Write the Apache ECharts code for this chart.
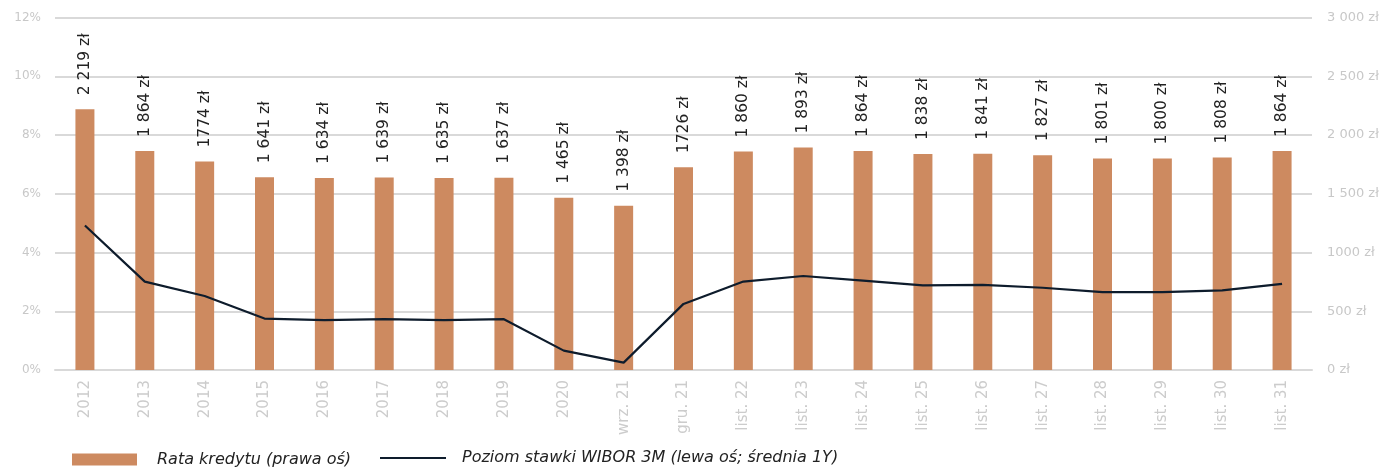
<!DOCTYPE html>
<html>
<head>
<meta charset="utf-8">
<script src="https://cdn.jsdelivr.net/npm/echarts@6/dist/echarts.min.js"></script>
<style>
html,body{margin:0;padding:0;background:#fff;}
#chart{width:1394px;height:468px;}
</style>
</head>
<body>
<div id="chart"></div>
<script>
var categories = ["2012","2013","2014","2015","2016","2017","2018","2019","2020","wrz. 21","gru. 21","list. 22","list. 23","list. 24","list. 25","list. 26","list. 27","list. 28","list. 29","list. 30","list. 31"];
var rataValues = [2219,1864,1774,1641,1634,1639,1635,1637,1465,1398,1726,1860,1893,1864,1838,1841,1827,1801,1800,1808,1864];
var rataLabels = ["2 219 zł","1 864 zł","1774 zł","1 641 zł","1 634 zł","1 639 zł","1 635 zł","1 637 zł","1 465 zł","1 398 zł","1726 zł","1 860 zł","1 893 zł","1 864 zł","1 838 zł","1 841 zł","1 827 zł","1 801 zł","1 800 zł","1 808 zł","1 864 zł"];
var wiborValues = [4.92,3.01,2.52,1.75,1.70,1.73,1.70,1.73,0.66,0.25,2.25,3.01,3.20,3.04,2.88,2.90,2.80,2.65,2.65,2.71,2.93];
var leftTicks = {0:"0%",2:"2%",4:"4%",6:"6%",8:"8%",10:"10%",12:"12%"};
var rightTicks = {0:"0 zł",500:"500 zł",1000:"1000 zł",1500:"1 500 zł",2000:"2 000 zł",2500:"2 500 zł",3000:"3 000 zł"};
var seriesNames = ["Rata kredytu (prawa oś)","Poziom stawki WIBOR 3M (lewa oś; średnia 1Y)"];

var axisFont = {color:"#c8c8c8", fontSize:13, fontFamily:"DejaVu Sans", fontWeight:"normal"};
var legendFont = {fontSize:16, fontStyle:"italic", color:"#222", fontFamily:"DejaVu Sans", fontWeight:"normal"};
var chart = echarts.init(document.getElementById("chart"), null, {renderer:"canvas"});
chart.setOption({
  animation:false,
  backgroundColor:"#fff",
  grid:{left:55, right:82, top:17.5, bottom:98},
  legend:[{
    data:[{name:seriesNames[0], icon:"rect"}],
    left:72, top:451.5, padding:0, itemWidth:65, itemHeight:12,
    textStyle:Object.assign({padding:[0,0,0,15]}, legendFont)
  },{
    data:[{name:seriesNames[1], icon:"rect", itemStyle:{color:"#0e1c2c", borderWidth:0}}],
    left:380, top:450, padding:0, itemWidth:66, itemHeight:2,
    textStyle:Object.assign({padding:[0,0,0,11]}, legendFont)
  }],
  xAxis:{
    type:"category", data:categories,
    axisLine:{show:true, lineStyle:{color:"#d9d9d9", width:2}},
    axisTick:{show:false},
    axisLabel:Object.assign({}, axisFont, {rotate:90, margin:10, interval:0, fontSize:15, color:"#cccccc"})
  },
  yAxis:[{
    type:"value", min:0, max:12, interval:2, position:"left",
    axisLine:{show:false}, axisTick:{show:false},
    splitLine:{lineStyle:{color:"#d9d9d9", width:2}},
    axisLabel:Object.assign({}, axisFont, {margin:14, fontSize:12, formatter:function(v){return leftTicks[v];}})
  },{
    type:"value", min:0, max:3000, interval:500, position:"right",
    axisLine:{show:false}, axisTick:{show:false}, splitLine:{show:false},
    axisLabel:Object.assign({}, axisFont, {margin:15, formatter:function(v){return rightTicks[v];}})
  }],
  series:[{
    name:seriesNames[0], type:"bar", yAxisIndex:1, data:rataValues,
    barWidth:19, itemStyle:{color:"#cd8a60"},
    label:{show:true, position:"top", distance:14, rotate:90, align:"left", verticalAlign:"middle",
      fontSize:15.5, color:"#222", fontFamily:"DejaVu Sans", fontWeight:"normal",
      formatter:function(p){return rataLabels[p.dataIndex];}}
  },{
    name:seriesNames[1], type:"line", yAxisIndex:0, data:wiborValues,
    symbol:"none", lineStyle:{color:"#0e1c2c", width:2.2}, itemStyle:{color:"#0e1c2c"}, z:5
  }]
});
</script>
</body>
</html>
